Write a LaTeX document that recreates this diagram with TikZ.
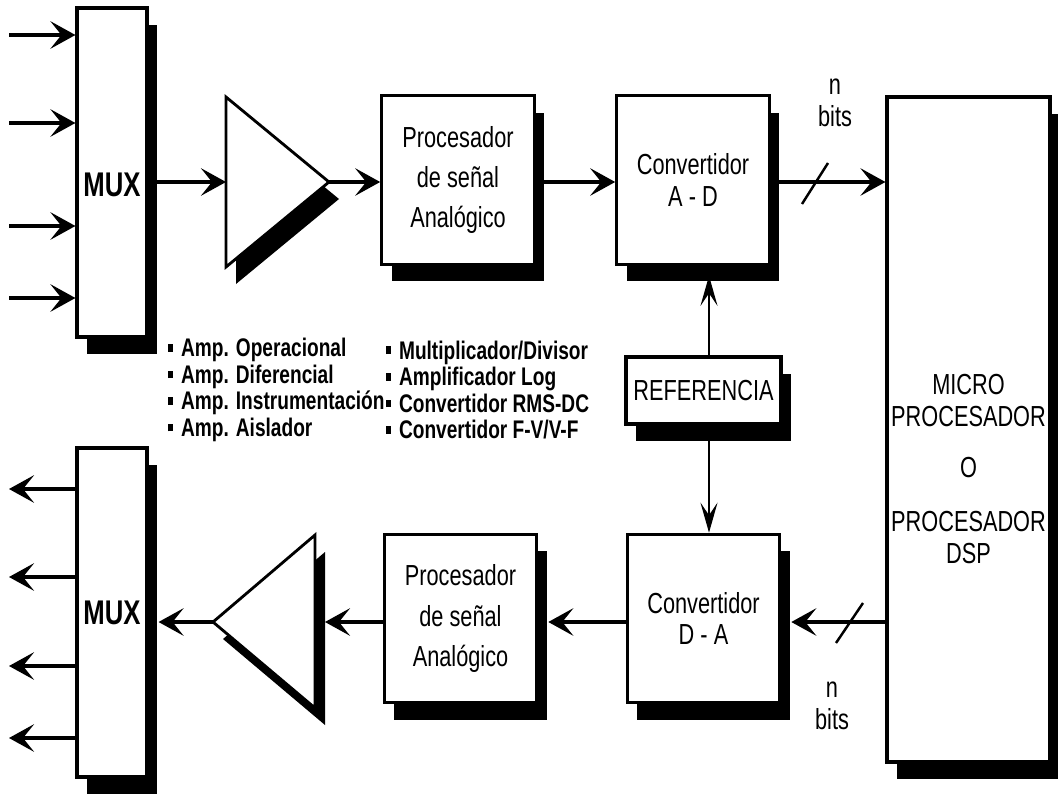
\documentclass[tikz,border=0pt]{standalone}
\usepackage{fontspec}
\setmainfont{Liberation Sans}
\newfontfamily\narrowfont[FakeStretch=0.75]{Liberation Sans}
\usetikzlibrary{arrows.meta,shadows}

\newcommand{\listmark}{\rule[0.2em]{0.2em}{0.3em}\hspace{0.3em}}

\tikzset{
  block/.style={draw, line width=1.8pt, fill=white, inner sep=0pt, align=center,
    drop shadow={shadow xshift=0.2cm, shadow yshift=-0.34cm, opacity=1, fill=black}},
  mux/.style={minimum width=1.4cm, minimum height=6.58cm},
  proc/.style={minimum width=3.05cm, minimum height=3.37cm,
    font=\narrowfont\fontsize{16.5}{23}\selectfont},
  conv/.style={minimum width=3.05cm, minimum height=3.37cm,
    font=\narrowfont\fontsize{16.5}{18}\selectfont},
  plain/.style={inner sep=0pt, align=center, font=\narrowfont\fontsize{16.5}{18}\selectfont},
  muxtext/.style={inner sep=0pt, font=\narrowfont\bfseries\fontsize{19.5}{22}\selectfont},
  listtxt/.style={inner sep=0pt, align=left, font=\narrowfont\bfseries\fontsize{14.5}{15.1}\selectfont},
  sig/.style={line width=1.8pt, -{Stealth[length=0.5cm,width=0.55cm,inset=0.22cm]}},
  inarrow/.style={sig, line width=2.8pt},
  vsig/.style={line width=1.5pt, -{Stealth[length=0.6cm,width=0.34cm,inset=0.25cm]}},
  toshadow/.style={shorten >=0.2cm},
  amp/.style={line width=1.6pt, fill=white},
}

\begin{document}
\begin{tikzpicture}[x=0.02cm, y=-0.02cm]
    \useasboundingbox (0,0) rectangle (1058,794);

    % upper chain
    \node[block, mux] (muxin) at (112,172.5) {};
    \node[muxtext] (muxinlbl) at (112,184.5) {MUX};
    \node[block, proc] (procin) at (458,180) {Procesador\\de señal\\Analógico};
    \node[block, conv] (ad) at (693,180) {Convertidor\\A - D};

    % processor
    \node[block, minimum width=3.26cm, minimum height=13.3cm] (micro) at (968.5,429.5) {};
    \node[plain] (microlbl) at (968.5,469) {MICRO\\PROCESADOR\\[11pt]O\\[13pt]PROCESADOR\\DSP};

    % reference
    \node[block, minimum width=3.1cm, minimum height=1.34cm, font=\narrowfont\fontsize{16.5}{18}\selectfont] (ref) at (703.5,390.5) {REFERENCIA};

    % lower chain
    \node[block, conv] (da) at (703.5,618.5) {Convertidor\\D - A};
    \node[block, proc] (procout) at (460.5,618.5) {Procesador\\de señal\\Analógico};
    \node[block, mux, muxtext] (muxout) at (112,612.5) {MUX};

    % amplifiers
    \coordinate (ampinL) at (226,182);
    \coordinate (ampinR) at (329,182);
    \fill[black, shift={(10,17)}] (226,97) -- (329,182) -- (226,267) -- cycle;
    \draw[amp] (226,97) -- (ampinR) -- (226,267) -- cycle;

    \coordinate (ampoutR) at (315,622);
    \coordinate (ampoutL) at (213,622);
    \fill[black, shift={(10,17)}] (315,535) -- (213,622) -- (315,708) -- cycle;
    \draw[amp] (315,535) -- (ampoutL) -- (315,708) -- cycle;

    % inputs
    \foreach \y [count=\i] in {35,123,226,298} {
        \coordinate (src\i) at (9,\y);
        \draw[inarrow] (src\i) -- (src\i -| muxin.west);
    }

    % upper signal path
    \draw[sig] (muxin.east |- ampinL) -- (ampinL);
    \draw[sig] (ampinR) -- (ampinR -| procin.west);
    \draw[sig] (procin.east |- ampinR) -- (ampinR -| ad.west);
    \draw[sig] (ad.east |- ampinR) -- (ampinR -| micro.west);

    % lower signal path
    \draw[sig, toshadow] (micro.west |- ampoutR) -- (ampoutR -| da.east);
    \draw[sig, toshadow] (da.west |- ampoutR) -- (ampoutR -| procout.east);
    \draw[sig, toshadow] (procout.west |- ampoutR) -- (ampoutR);
    \draw[sig, toshadow] (ampoutL) -- (ampoutL -| muxout.east);

    % outputs
    \foreach \y [count=\i] in {489,577,666,738} {
        \coordinate (dst\i) at (9,\y);
        \draw[inarrow] (dst\i -| muxout.west) -- (dst\i);
    }

    % reference lines
    \coordinate (refx) at (709,390);
    \draw[vsig, toshadow] (refx |- ref.north) -- (refx |- ad.south);
    \draw[vsig] (refx |- ref.south) -- (refx |- da.north);

    % bus width marks
    \draw[line width=1.4pt] (802,204) -- (828,163);
    \draw[line width=1.4pt] (836,643) -- (863,603);
    \node[plain] (nbitsup) at (835,103) {n\\bits};
    \node[plain] (nbitsdn) at (832,706) {n\\bits};

    % amplifier and function lists
    \node[listtxt, anchor=west] (amps) at (168,390) {\listmark Amp. Operacional\\ \listmark Amp. Diferencial\\ \listmark Amp. Instrumentación\\ \listmark Amp. Aislador};
    \node[listtxt, anchor=west] (funcs) at (386,390) {\listmark Multiplicador/Divisor\\ \listmark Amplificador Log\\ \listmark Convertidor RMS-DC\\ \listmark Convertidor F-V/V-F};
\end{tikzpicture}
\end{document}
